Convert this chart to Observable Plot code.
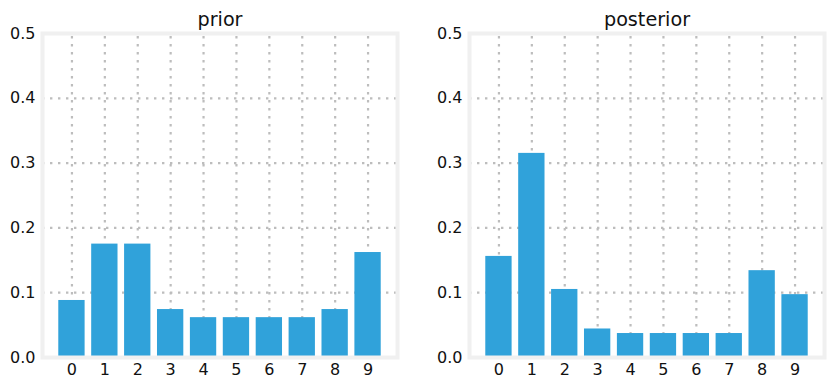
<!DOCTYPE html>
<html>
<head>
<meta charset="utf-8">
<script src="https://cdn.jsdelivr.net/npm/d3@7"></script>
<script src="https://cdn.jsdelivr.net/npm/@observablehq/plot@0.6"></script>
<style>
  html, body { margin: 0; padding: 0; background: #ffffff; }
  #wrap { display: flex; width: 834px; height: 387px; }
  #wrap svg { display: block; }
</style>
</head>
<body>
<div id="wrap"></div>
<script>
const digits = [0, 1, 2, 3, 4, 5, 6, 7, 8, 9];
const prior = [0.088, 0.175, 0.175, 0.074, 0.0615, 0.0615, 0.0615, 0.0615, 0.074, 0.162];
const posterior = [0.156, 0.315, 0.105, 0.044, 0.037, 0.037, 0.037, 0.037, 0.134, 0.097];
const yTicks = [0, 0.1, 0.2, 0.3, 0.4, 0.5];
const titles = ["prior", "posterior"];

const blue = "#30a2da";
const gridColor = "#bdbdbd";
const frameColor = "#f0f0f0";

function panel(values, title, marginLeft, marginRight) {
  const data = digits.map((d, i) => ({digit: d, p: values[i]}));
  return Plot.plot({
    width: 417,
    height: 387,
    marginTop: 33,
    marginBottom: 30,
    marginLeft,
    marginRight,
    style: {fontFamily: "'DejaVu Sans', sans-serif", fontSize: "16px", color: "#111", background: "#ffffff", overflow: "visible"},
    x: {type: "band", domain: digits, paddingInner: 0.2, paddingOuter: 0.495, round: false, axis: null, label: null},
    y: {domain: [0, 0.5], axis: null, label: null},
    marks: [
      Plot.gridX(digits, {stroke: gridColor, strokeOpacity: 1, strokeWidth: 2.2, strokeDasharray: "2.4,5.6", insetTop: 3}),
      Plot.gridY([0.1, 0.2, 0.3, 0.4], {stroke: gridColor, strokeOpacity: 1, strokeWidth: 2.2, strokeDasharray: "2.4,5.6"}),
      Plot.barY(data, {x: "digit", y: "p", fill: blue}),
      Plot.frame({stroke: frameColor, strokeWidth: 4}),
      Plot.axisX(digits, {tickSize: 0, tickPadding: 6, fontSize: 16, label: null, tickFormat: d => String(d)}),
      Plot.axisY(yTicks, {tickSize: 0, tickPadding: 7, fontSize: 16, label: null, tickFormat: d3.format(".1f")}),
      Plot.text([title], {frameAnchor: "top", dy: -8, lineAnchor: "bottom", fontSize: 19.2, fill: "#111", text: d => d})
    ]
  });
}

const wrap = document.getElementById("wrap");
wrap.appendChild(panel(prior, titles[0], 42, 20));
wrap.appendChild(panel(posterior, titles[1], 52, 10));
</script>
</body>
</html>
